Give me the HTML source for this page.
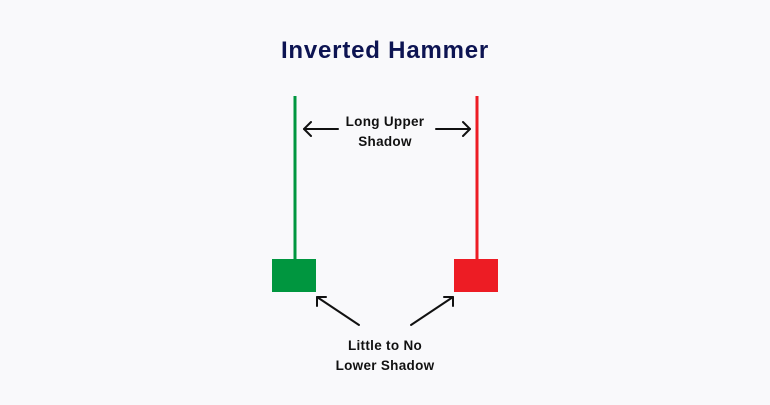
<!DOCTYPE html>
<html><head><style>
html,body{margin:0;padding:0;}
body{width:770px;height:400px;background:#f9f9fb;font-family:"Liberation Sans",sans-serif;}
</style></head><body>
<svg width="770" height="400" xmlns="http://www.w3.org/2000/svg">
<rect width="770" height="400" fill="#f9f9fb"/>
<text x="385" y="58" text-anchor="middle" font-family="Liberation Sans, sans-serif" font-weight="bold" font-size="24" letter-spacing="0.8" fill="#0d1452">Inverted Hammer</text>
<line x1="295" y1="96" x2="295" y2="260" stroke="#00963f" stroke-width="3"/>
<rect x="272" y="259" width="44" height="33" fill="#00963f"/>
<line x1="477" y1="96" x2="477" y2="260" stroke="#ed1c24" stroke-width="3"/>
<rect x="454" y="259" width="44" height="33" fill="#ed1c24"/>
<g stroke="#111" stroke-width="2" fill="none" stroke-linecap="round" stroke-linejoin="round">
<line x1="338" y1="129" x2="304" y2="129"/><polyline points="311,122 304,129 311,136"/>
<line x1="436" y1="129" x2="470" y2="129"/><polyline points="463,122 470,129 463,136"/>
<line x1="359" y1="325" x2="317" y2="297"/><polyline points="317,306 317,297 326,297"/>
<line x1="411" y1="325" x2="453" y2="297"/><polyline points="444,297 453,297 453,306"/>
</g>
<g font-family="Liberation Sans, sans-serif" font-weight="bold" font-size="13.5" letter-spacing="0.3" fill="#111" text-anchor="middle">
<text x="385" y="126">Long Upper</text>
<text x="385" y="146">Shadow</text>
<text x="385" y="350">Little to No</text>
<text x="385" y="370">Lower Shadow</text>
</g>
</svg>
</body></html>
